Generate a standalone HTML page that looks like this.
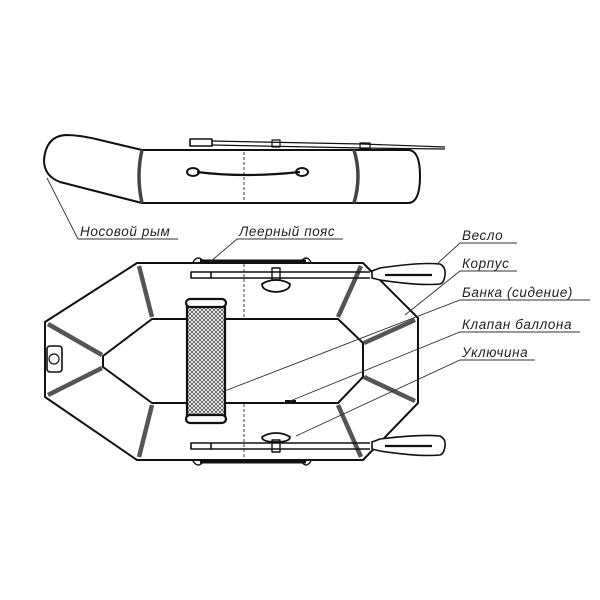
<!DOCTYPE html>
<html><head><meta charset="utf-8"><style>
html,body{margin:0;padding:0;background:#fff;width:600px;height:600px;overflow:hidden}
svg text{font-family:"Liberation Sans","DejaVu Sans",sans-serif;font-style:italic;font-size:13.5px;letter-spacing:0.6px;fill:#222}
</style></head><body>
<svg width="600" height="600" viewBox="0 0 600 600" xmlns="http://www.w3.org/2000/svg">
<defs>
<pattern id="mesh" width="4" height="4" patternUnits="userSpaceOnUse">
<rect width="4" height="4" fill="#fff"/><path d="M0 0L4 4M4 0L0 4" stroke="#555" stroke-width="0.8"/>
</pattern>
</defs>
<g fill="none" stroke="#111" stroke-width="2" stroke-linejoin="round">
<!-- side view -->
<path d="M142 150 L408 150 Q420 150 420 176 Q420 203 408 203 L142 203 L60 182 Q44 176 44 160 Q46 136 66 135 Q80 135 100 140 Z" fill="#fff"/>
<path d="M142 150 Q136 176 142 203" stroke-width="3.5" stroke="#444"/>
<path d="M354 150 Q362 176 354 203" stroke-width="3.5" stroke="#444"/>
<line x1="244" y1="152" x2="244" y2="203" stroke-width="0.8" stroke-dasharray="3,2"/>
<path d="M197 172 Q244 178 300 172" stroke-width="2.2"/>
<ellipse cx="193" cy="172" rx="6" ry="4"/><ellipse cx="302" cy="172" rx="6" ry="4"/>
<rect x="190" y="139" width="22" height="7" stroke-width="1.6"/>
<path d="M212 141 L362 144 L445 147 M212 145 L362 148 L445 149" stroke-width="1.2"/>
<rect x="272" y="140" width="8" height="7" stroke-width="1.2"/>
<rect x="360" y="143" width="10" height="6" stroke-width="1.2"/>
<!-- top view hull -->
<path d="M137 263 L363 263 L418 318 L418 403 L363 460 L137 460 L45 397 L45 322 Z" fill="#fff"/>
<path d="M152 319 L338 319 L363 343 L363 377 L338 403 L152 403 L103 367 L103 356 Z"/>
<g stroke="#555" stroke-width="4.5">
<line x1="139" y1="266" x2="152" y2="317"/><line x1="139" y1="457" x2="152" y2="405"/>
<line x1="361" y1="266" x2="338" y2="317"/><line x1="361" y1="457" x2="338" y2="405"/>
<line x1="48" y1="324" x2="102" y2="355"/><line x1="48" y1="395" x2="102" y2="368"/>
<line x1="415" y1="320" x2="364" y2="343"/><line x1="415" y1="401" x2="364" y2="377"/>
</g>
<rect x="47" y="346" width="15" height="26" rx="3" stroke-width="1.6"/>
<circle cx="54" cy="359" r="5" stroke-width="1.2"/>
<line x1="244" y1="264" x2="244" y2="318" stroke-width="0.8" stroke-dasharray="3,2"/>
<line x1="244" y1="404" x2="244" y2="459" stroke-width="0.8" stroke-dasharray="3,2"/>
<!-- rails -->
<line x1="200" y1="261" x2="306" y2="261" stroke-width="3"/>
<line x1="200" y1="462" x2="306" y2="462" stroke-width="3"/>
<path d="M193 262 Q198 254 204 262 M301 262 Q306 254 311 262 M193 461 Q198 469 204 461 M301 461 Q306 469 311 461" stroke-width="1.4"/>
<!-- seat -->
<rect x="187" y="300" width="38" height="122" rx="5" fill="url(#mesh)" stroke-width="2.2"/>
<rect x="186" y="299" width="40" height="8" rx="4" fill="#fff" stroke-width="2.2"/>
<rect x="186" y="415" width="40" height="8" rx="4" fill="#fff" stroke-width="2.2"/>
<!-- oars -->
<rect x="191" y="272" width="20" height="6" stroke-width="1.6"/>
<path d="M211 272 L370 272 M211 278 L370 278" stroke-width="1.4"/>
<path d="M372 271 L380 268 Q420 262 440 264 Q446 267 445 275 Q444 283 440 284 Q420 286 380 280 L372 278 Z" fill="#fff" stroke-width="1.6"/>
<line x1="385" y1="275" x2="432" y2="275" stroke-width="2.2"/>
<path d="M262 284 Q268 280 276 280 Q284 280 290 284 Q290 291 276 292 Q262 291 262 284 Z" stroke-width="1.8"/>
<rect x="272" y="268" width="8" height="12" stroke-width="1.4"/>
<rect x="191" y="443" width="20" height="6" stroke-width="1.6"/>
<path d="M211 443 L370 443 M211 449 L370 449" stroke-width="1.4"/>
<path d="M372 442 L380 439 Q420 434 440 436 Q446 439 445 446 Q444 454 440 455 Q420 457 380 451 L372 449 Z" fill="#fff" stroke-width="1.6"/>
<line x1="385" y1="446" x2="432" y2="446" stroke-width="2.2"/>
<path d="M262 437 Q268 433 276 433 Q284 433 290 437 Q290 442 276 442 Q262 442 262 437 Z" stroke-width="1.8"/>
<rect x="272" y="440" width="8" height="12" stroke-width="1.4"/>
<line x1="285" y1="401" x2="296" y2="401" stroke-width="2"/>
</g>
<!-- leaders -->
<g stroke="#333" stroke-width="0.9" fill="none">
<path d="M47 178 L78 239 L178 239"/>
<path d="M210 262 L237 239 L343 239"/>
<path d="M438 263 L460 243 L517 243"/>
<path d="M405 315 L460 271 L517 271"/>
<path d="M222 392 L460 300 L590 300"/>
<path d="M290 401 L460 332 L580 332"/>
<path d="M296 436 L460 360 L535 360"/>
</g>
<text x="80" y="236">Носовой рым</text>
<text x="239" y="236">Леерный пояс</text>
<text x="462" y="240">Весло</text>
<text x="462" y="268">Корпус</text>
<text x="462" y="297">Банка (сидение)</text>
<text x="462" y="329">Клапан баллона</text>
<text x="462" y="357">Уключина</text>
</svg>
</body></html>
